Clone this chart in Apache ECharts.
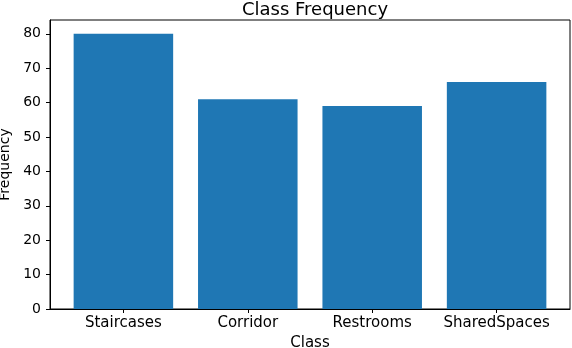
<!DOCTYPE html>
<html>
<head>
<meta charset="utf-8">
<script src="https://cdn.jsdelivr.net/npm/echarts@6/dist/echarts.min.js"></script>
<style>
  html, body { margin: 0; padding: 0; background: #fff; }
  #chart { width: 572px; height: 348px; }
</style>
</head>
<body>
<div id="chart"></div>
<script>
const categories = ['Staircases', 'Corridor', 'Restrooms', 'SharedSpaces']
const frequency = [80, 61, 59, 66]
const yTicks = [0, 10, 20, 30, 40, 50, 60, 70, 80]

const font = 'DejaVu Sans'
const chart = echarts.init(document.getElementById('chart'))

const positions = categories.map((c, i) => i)
// matplotlib style padding around bars of width 0.8
const xMin = -0.4 - 0.05 * 3.8
const xMax = 3.4 + 0.05 * 3.8
const plotWidth = 520

chart.setOption({
  animation: false,
  title: {
    text: 'Class Frequency',
    left: 310,
    textAlign: 'center',
    top: -4,
    textStyle: { fontFamily: font, fontSize: 18, fontWeight: 'normal', color: '#000' }
  },
  grid: {
    left: 50, right: 2, top: 20, bottom: 39,
    outerBoundsMode: 'none',
    containLabel: false,
    show: true, borderColor: '#000', borderWidth: 1
  },
  xAxis: {
    type: 'value',
    min: xMin,
    max: xMax,
    name: 'Class',
    nameLocation: 'middle',
    nameGap: 27,
    nameTextStyle: { fontFamily: font, fontSize: 15, color: '#000' },
    axisLine: { show: true, onZero: false, lineStyle: { color: '#000' } },
    axisTick: { show: true, length: 4, lineStyle: { color: '#000' }, customValues: positions },
    axisLabel: {
      customValues: positions,
      formatter: v => categories[Math.round(v)],
      fontFamily: font, fontSize: 15, color: '#000', margin: 7
    },
    splitLine: { show: false }
  },
  yAxis: {
    type: 'value',
    min: 0,
    max: 84,
    name: 'Frequency',
    nameLocation: 'middle',
    nameGap: 37,
    nameTextStyle: { fontFamily: font, fontSize: 14, color: '#000' },
    axisLine: { show: true, onZero: false, lineStyle: { color: '#000' } },
    axisTick: { show: true, length: 4, lineStyle: { color: '#000' }, customValues: yTicks },
    axisLabel: { customValues: yTicks, fontFamily: font, fontSize: 14, color: '#000', margin: 9 },
    splitLine: { show: false }
  },
  series: [{
    type: 'bar',
    data: frequency.map((v, i) => [positions[i], v]),
    barWidth: 0.8 * plotWidth / (xMax - xMin),
    itemStyle: { color: '#1f77b4' }
  }]
})
</script>
</body>
</html>
